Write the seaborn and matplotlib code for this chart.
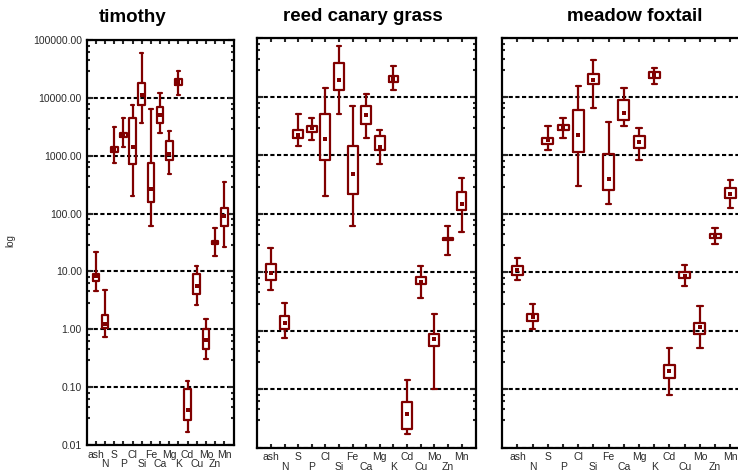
import numpy as np
import pandas as pd
import matplotlib
matplotlib.use("Agg")
import matplotlib.pyplot as plt
import matplotlib.ticker as mticker
import seaborn as sns

sns.set_style("ticks")
plt.rcParams['font.family'] = ['Liberation Sans', 'DejaVu Sans']

elements = ['ash', 'N', 'S', 'P', 'Cl', 'Si', 'Fe', 'Ca', 'Mg', 'K',
            'Cd', 'Cu', 'Mo', 'Zn', 'Mn']

# timothy: min, lower quartile, median, upper quartile, max
timothy_min = [4.5, 0.74, 760, 1440, 200, 3700, 61, 2500, 475, 11200, 0.017, 2.6, 0.31, 18.6, 26]
timothy_q1 = [6.7, 1.07, 1150, 2140, 710, 7500, 160, 3730, 830, 16600, 0.027, 4.0, 0.45, 29.5, 61]
timothy_med = [8.2, 1.22, 1270, 2300, 1440, 11000, 262, 5000, 1070, 19000, 0.041, 5.7, 0.66, 31, 90]
timothy_q3 = [9.1, 1.79, 1440, 2500, 4460, 18000, 760, 6950, 1820, 21400, 0.094, 9.1, 1.0, 33, 127]
timothy_max = [22, 4.85, 3160, 4460, 7600, 59000, 6500, 12300, 2700, 29000, 0.13, 12.6, 1.5, 57, 350]

# reed canary grass
reed_min = [4.85, 0.74, 1440, 1820, 200, 5050, 61, 1990, 720, 13100, 0.017, 3.6, 0.10, 20, 49]
reed_q1 = [7.2, 1.07, 1990, 2500, 830, 13100, 221, 3400, 1220, 18200, 0.021, 6.2, 0.54, 35, 114]
reed_med = [9.6, 1.33, 2230, 2880, 1920, 19000, 470, 4940, 1390, 20400, 0.038, 6.7, 0.71, 37, 145]
reed_q3 = [13.9, 1.79, 2700, 3200, 5100, 37500, 1440, 6950, 2140, 22700, 0.059, 8.4, 0.88, 38, 235]
reed_max = [26, 3.0, 5100, 4370, 14300, 75000, 6950, 11200, 2720, 34000, 0.142, 12.6, 1.9, 61, 410]

# meadow foxtail
foxtail_min = [7.4, 1.07, 1250, 1990, 300, 6500, 149, 3200, 830, 16800, 0.08, 5.75, 0.50, 29.9, 127]
foxtail_q1 = [9.1, 1.48, 1550, 2700, 1130, 16600, 250, 4000, 1340, 20800, 0.152, 7.9, 0.88, 38.3, 186]
foxtail_med = [10.7, 1.7, 1820, 3000, 2230, 19000, 395, 5350, 1700, 23600, 0.206, 8.5, 1.14, 42, 213]
foxtail_q3 = [12.6, 1.93, 2000, 3240, 5900, 24600, 1050, 8900, 2140, 27000, 0.26, 10, 1.37, 45.7, 276]
foxtail_max = [17.6, 2.87, 3160, 4370, 15500, 42600, 3730, 14300, 2950, 31600, 0.50, 13.5, 2.6, 57, 374]

panels = [
    ('timothy', [timothy_min, timothy_q1, timothy_med, timothy_q3, timothy_max]),
    ('reed canary grass', [reed_min, reed_q1, reed_med, reed_q3, reed_max]),
    ('meadow foxtail', [foxtail_min, foxtail_q1, foxtail_med, foxtail_q3, foxtail_max]),
]

color = '#800000'

fig = plt.figure(figsize=(7.38, 4.74), dpi=100)
rects = [
    [86.7 / 738, 29 / 474, 147.6 / 738, 405 / 474],
    [257.3 / 738, 26.5 / 474, 219.2 / 738, 409.2 / 474],
    [502.3 / 738, 26.5 / 474, 244.7 / 738, 409.2 / 474],
]
title_x = [0.31, 0.48, 0.543]
title_pad = [13.3, 12.1, 12.1]

xlabels = [e if i % 2 == 0 else '\n' + e for i, e in enumerate(elements)]

for k, (name, stats) in enumerate(panels):
    ax = fig.add_axes(rects[k])
    rows = []
    for i, el in enumerate(elements):
        for s in stats:
            rows.append({'element': el, 'value': s[i]})
    df = pd.DataFrame(rows)
    med = pd.DataFrame({'element': elements, 'value': stats[2]})

    ax.set_yscale('log')
    sns.boxplot(data=df, x='element', y='value', order=elements, ax=ax,
                whis=np.inf, fill=False, color=color, linecolor=color,
                linewidth=1.6, width=0.72,
                medianprops={'visible': False})
    sns.stripplot(data=med, x='element', y='value', order=elements, ax=ax,
                  jitter=False, marker='s', size=3.2, color=color,
                  linewidth=0)

    ax.set_ylim(0.01, 100000)
    ax.set_xlim(-1, 15.1)
    ax.set_xlabel('')
    ax.set_ylabel('')
    ax.set_axisbelow(True)
    ax.yaxis.grid(True, which='major', color='black', linewidth=1.5,
                  linestyle=(0, (2, 1.2)))

    ax.yaxis.set_major_locator(mticker.LogLocator(base=10, numticks=10))
    ax.yaxis.set_minor_locator(mticker.LogLocator(base=10, subs=[2.9, 4.5, 6.3, 7.9], numticks=20))
    ax.yaxis.set_major_formatter(mticker.FuncFormatter(lambda v, p: f'{v:.2f}'))
    ax.yaxis.set_minor_formatter(mticker.NullFormatter())

    ax.set_xticks(range(len(elements)))
    ax.set_xticklabels(xlabels, fontsize=7.5, color='#2a2a2a', linespacing=0.92)
    ax.tick_params(axis='x', which='both', direction='in', length=3, width=1.5,
                   top=True, bottom=True, pad=3.5)
    ax.tick_params(axis='y', which='major', direction='in', length=4, width=1.5,
                   left=True, right=True, labelsize=7.5, labelcolor='#2a2a2a')
    ax.tick_params(axis='y', which='minor', direction='in', length=2.5, width=1.5,
                   left=True, right=True)
    if k > 0:
        ax.tick_params(axis='y', labelleft=False)
    else:
        ax.set_ylabel('log', fontsize=7, color='#333333')
        ax.yaxis.set_label_coords(-0.486, 0.506)

    for sp in ax.spines.values():
        sp.set_visible(True)
        sp.set_linewidth(1.6)
        sp.set_color('black')

    ax.set_title(name, fontsize=13.5, fontweight='bold', color='black',
                 x=title_x[k], pad=title_pad[k])

fig.savefig('out.png', dpi=100)
